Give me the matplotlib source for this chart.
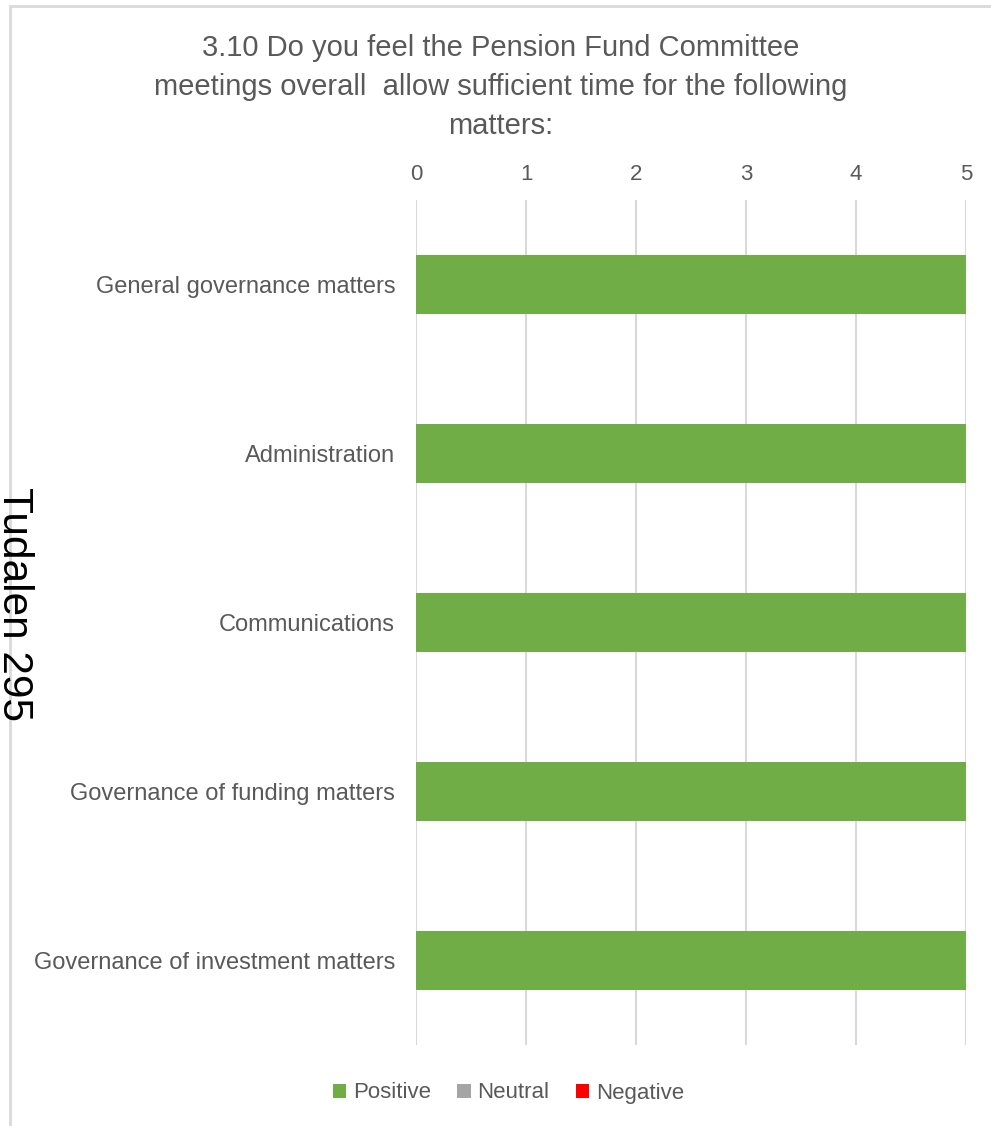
import matplotlib.pyplot as plt
from matplotlib.patches import Rectangle
import numpy as np

categories = ['General governance matters', 'Administration', 'Communications',
              'Governance of funding matters', 'Governance of investment matters']
positive = [5, 5, 5, 5, 5]
neutral = [0, 0, 0, 0, 0]
negative = [0, 0, 0, 0, 0]
x_ticks = [0, 1, 2, 3, 4, 5]

title = ('3.10 Do you feel the Pension Fund Committee\n'
         'meetings overall  allow sufficient time for the following\n'
         'matters:')

plt.rcParams['font.family'] = ['Liberation Sans', 'DejaVu Sans']
text_col = '#595959'
grid_col = '#d9d9d9'


def main():
    fig = plt.figure(figsize=(9.91, 11.26), dpi=100)

    # chart frame
    fig.patches.append(Rectangle((10 / 991, -0.01), 1.0, 1 - 6 / 1126 + 0.01,
                                 transform=fig.transFigure, fill=False,
                                 edgecolor=grid_col, linewidth=2))

    ax = fig.add_axes([416 / 991, 1 - 1045 / 1126, 550 / 991, 845 / 1126])
    y = np.arange(len(categories))
    h = 0.355
    pos = np.array(positive)
    neu = np.array(neutral)
    neg = np.array(negative)
    ax.barh(y, pos, height=h, color='#70ad47', label='Positive', zorder=3)
    ax.barh(y, neu, left=pos, height=h, color='#a5a5a5', label='Neutral', zorder=3)
    ax.barh(y, neg, left=pos + neu, height=h, color='#ff0000', label='Negative', zorder=3)

    ax.set_xlim(0, 5)
    ax.set_ylim(len(categories) - 0.5, -0.5)
    ax.set_xticks(x_ticks)
    ax.set_yticks(y)
    ax.set_yticklabels(categories)
    ax.xaxis.tick_top()
    ax.tick_params(axis='x', length=0, pad=11, labelsize=16, labelcolor=text_col)
    ax.tick_params(axis='y', length=0, pad=15, labelsize=17, labelcolor=text_col)
    ax.grid(axis='x', color=grid_col, linewidth=1.5, zorder=0)
    for s in ax.spines.values():
        s.set_visible(False)

    fig.text(0.505, 1 - 87 / 1126, title, ha='center', va='center',
             fontsize=21, color=text_col, linespacing=1.5)

    fig.legend(loc='center', bbox_to_anchor=(0.513, 1 - 1093 / 1126), ncol=3,
               frameon=False, fontsize=16, labelcolor=text_col,
               handlelength=0.6, handleheight=0.6, handletextpad=0.3,
               columnspacing=1.2)

    fig.text(14 / 991, 1 - 604 / 1126, 'Tudalen 295', rotation=270,
             ha='center', va='center', fontsize=30.5, color='black')

    fig.savefig('out.png', dpi=100)


if __name__ == '__main__':
    main()
